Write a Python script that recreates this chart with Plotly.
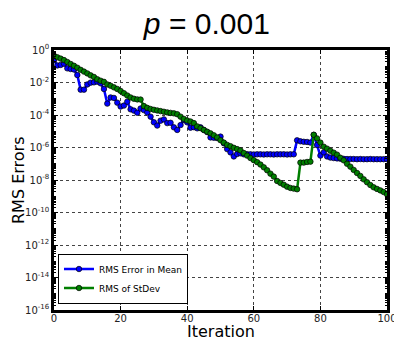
import plotly.graph_objects as go

iterations = list(range(0, 101))

mean_err_log10 = [
    -0.62, -0.95, -0.92, -0.84, -1.13, -1.17, -1.20, -1.54, -2.44, -2.44,
    -2.12, -2.01, -1.99, -1.95, -2.05, -2.40, -3.30, -2.92, -2.95, -3.24,
    -3.48, -3.42, -3.18, -3.65, -3.73, -3.86, -3.60, -3.70, -3.85, -4.10,
    -4.45, -4.65, -4.35, -4.27, -4.50, -4.48, -4.76, -4.92, -4.62, -4.31,
    -4.45, -4.78, -4.75, -4.82, -4.76, -4.92, -5.05, -5.38, -5.40, -5.42,
    -5.33, -5.74, -6.10, -6.30, -6.55, -6.40, -6.36, -6.42, -6.41, -6.42,
    -6.43, -6.42, -6.42, -6.43, -6.42, -6.42, -6.43, -6.42, -6.42, -6.42,
    -6.43, -6.42, -6.42, -5.56, -5.62, -5.65, -5.66, -5.70, -5.22, -5.85,
    -6.50, -6.30, -6.55, -6.62, -6.65, -6.67, -6.69, -6.70, -6.71, -6.71,
    -6.71, -6.72, -6.71, -6.72, -6.72, -6.71, -6.72, -6.72, -6.72, -6.72,
    -6.72,
]

# log10 of RMS of StDev
stdev_log10 = [
    -0.35, -0.45, -0.53, -0.62, -0.74, -0.86, -0.97, -1.09, -1.22, -1.33,
    -1.44, -1.56, -1.66, -1.80, -1.89, -1.96, -2.12, -2.20, -2.30, -2.40,
    -2.52, -2.66, -2.80, -2.92, -3.00, -3.04, -3.05, -3.45, -3.56, -3.63,
    -3.68, -3.72, -3.76, -3.80, -3.84, -3.87, -3.90, -3.95, -4.10, -4.24,
    -4.34, -4.40, -4.50, -4.70, -4.81, -4.92, -5.03, -5.13, -5.25, -5.38,
    -5.55, -5.70, -5.84, -5.92, -6.02, -6.10, -6.18, -6.34, -6.50, -6.65,
    -6.78, -6.90, -7.05, -7.22, -7.40, -7.61, -7.79, -8.06, -8.18, -8.29,
    -8.41, -8.49, -8.53, -8.57, -6.93, -6.93, -6.89, -6.87, -5.22, -5.44,
    -5.70, -5.95, -6.07, -6.20, -6.32, -6.44, -6.63, -6.79, -7.00, -7.18,
    -7.38, -7.57, -7.75, -7.96, -8.14, -8.31, -8.45, -8.55, -8.64, -8.74,
    -8.88,
]

series_names = ["RMS Error in Mean", "RMS of StDev"]
x_ticks = [0, 20, 40, 60, 80, 100]
y_tick_exponents = [0, -2, -4, -6, -8, -10, -12, -14, -16]

mean_err = [10 ** v for v in mean_err_log10]
stdev = [10 ** v for v in stdev_log10]

fig = go.Figure()
for name, vals, col in [(series_names[0], mean_err, "#0000ff"),
                        (series_names[1], stdev, "#007f00")]:
    fig.add_trace(go.Scatter(
        x=iterations, y=vals, mode="lines+markers", name=name,
        line=dict(color=col, width=2.5),
        marker=dict(size=5.5, color=col, line=dict(color="black", width=0.7)),
    ))

axis_font = dict(family="DejaVu Sans", size=10, color="#222")
fig.update_layout(
    width=394, height=337,
    margin=dict(l=54, r=7, t=50, b=27),
    paper_bgcolor="white", plot_bgcolor="white",
    title=dict(text="<i>p</i> = 0.001", x=0.525, xanchor="center",
               y=0.93, yanchor="middle",
               font=dict(family="Liberation Sans", size=30, color="black")),
    showlegend=True,
    legend=dict(x=0.012, y=0.025, xanchor="left", yanchor="bottom",
                bgcolor="white", bordercolor="black", borderwidth=1,
                font=dict(family="DejaVu Sans", size=9, color="black"),
                tracegroupgap=0, itemwidth=30),
    xaxis=dict(range=[0, 100], tickvals=x_ticks, ticks="inside", ticklen=4,
               tickcolor="black", showline=True, linecolor="black", linewidth=2.5,
               mirror="allticks", showgrid=True, gridcolor="#444", griddash="dot",
               gridwidth=0.6, zeroline=False, tickfont=axis_font, automargin=False,
               ticklabeloverflow="allow", ticklabelstandoff=-3),
    yaxis=dict(type="log", range=[-16, 0],
               tickvals=[10 ** e for e in y_tick_exponents],
               ticktext=["10<sup>%d</sup>" % e for e in y_tick_exponents],
               ticks="inside", ticklen=4, tickcolor="black",
               showline=True, linecolor="black", linewidth=2.5, mirror="allticks",
               showgrid=True, gridcolor="#444", griddash="dot", gridwidth=0.6,
               zeroline=False, tickfont=axis_font, automargin=False,
               ticklabeloverflow="allow",
               minor=dict(ticks="inside", ticklen=2, tickcolor="black", dtick="D1")),
    annotations=[
        dict(text="Iteration", xref="paper", yref="paper", x=0.5, y=-0.084,
             xanchor="center", yanchor="middle", showarrow=False,
             font=dict(family="DejaVu Sans", size=16, color="black")),
        dict(text="RMS Errors", xref="paper", yref="paper", x=-0.108, y=0.5,
             xanchor="center", yanchor="middle", textangle=-90, showarrow=False,
             font=dict(family="DejaVu Sans", size=16, color="black")),
    ],
)

fig.write_html("out.html", config={"displayModeBar": False},
               post_script="document.body.style.margin='0';document.body.style.overflow='hidden';")
